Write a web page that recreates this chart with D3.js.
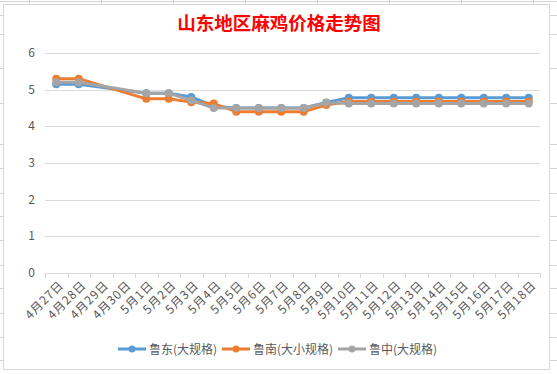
<!DOCTYPE html>
<html>
<head>
<meta charset="utf-8">
<script src="https://cdn.jsdelivr.net/npm/d3@7"></script>
<style>
  body { margin: 0; background: #fff; }
  svg { display: block; font-family: "Noto Sans CJK SC", "Noto Sans", sans-serif; }
</style>
</head>
<body>
<svg id="chart" width="557" height="374"></svg>
<script>
// categories (dates)
const dates = ["4月27日", "4月28日", "4月29日", "4月30日", "5月1日", "5月2日", "5月3日", "5月4日",
  "5月5日", "5月6日", "5月7日", "5月8日", "5月9日", "5月10日", "5月11日", "5月12日",
  "5月13日", "5月14日", "5月15日", "5月16日", "5月17日", "5月18日"];

// series values (null = no data that day)
const ludong = [5.15, 5.15, null, null, 4.9, 4.9, 4.8, 4.55, 4.5, 4.5, 4.5, 4.5, 4.65,
  4.78, 4.78, 4.78, 4.78, 4.78, 4.78, 4.78, 4.78, 4.78];
const lunan = [5.3, 5.3, null, null, 4.75, 4.75, 4.66, 4.62, 4.4, 4.4, 4.4, 4.4, 4.58,
  4.68, 4.68, 4.68, 4.68, 4.68, 4.68, 4.68, 4.68, 4.68];
const luzhong = [5.2, 5.2, null, null, 4.9, 4.9, 4.71, 4.5, 4.5, 4.5, 4.5, 4.5, 4.64,
  4.62, 4.62, 4.62, 4.62, 4.62, 4.62, 4.62, 4.62, 4.62];

const seriesNames = ["鲁东(大规格)", "鲁南(大小规格)", "鲁中(大规格)"];
const seriesColors = ["#5B9BD5", "#ED7D31", "#A5A5A5"];
const yTicks = [0, 1, 2, 3, 4, 5, 6];

const svg = d3.select("#chart");
const W = 557, H = 374;

// spreadsheet cells behind the chart object
const sheet = svg.append("g").attr("stroke", "#d4d4d4").attr("stroke-width", 1);
sheet.append("line").attr("x1", 0).attr("x2", W).attr("y1", 1.5).attr("y2", 1.5);
[29, 101, 173, 245, 317, 389, 461, 533].forEach(x => {
    sheet.append("line").attr("x1", x + 0.5).attr("x2", x + 0.5).attr("y1", 0).attr("y2", 4);
});
[15, 34, 68, 103, 144, 168, 193, 216, 240, 265, 288, 313, 337, 360].forEach(y => {
    sheet.append("line").attr("x1", 0).attr("x2", 3).attr("y1", y + 0.5).attr("y2", y + 0.5);
    sheet.append("line").attr("x1", 550).attr("x2", W).attr("y1", y + 0.5).attr("y2", y + 0.5);
});

// chart object frame
svg.append("rect")
    .attr("x", 3.5).attr("y", 4.5)
    .attr("width", 546).attr("height", 365)
    .attr("fill", "#fff")
    .attr("stroke", "#d9d9d9");

const plot = { left: 45, right: 540, top: 53, bottom: 273 };

const x = d3.scaleBand()
    .domain(dates)
    .range([plot.left, plot.right]);

const y = d3.scaleLinear()
    .domain([0, 6])
    .range([plot.bottom, plot.top]);

// title
svg.append("text")
    .attr("x", 279).attr("y", 30)
    .attr("text-anchor", "middle")
    .attr("fill", "#FF0000")
    .attr("font-size", 18.5)
    .attr("font-weight", "bold")
    .text("山东地区麻鸡价格走势图");

// gridlines
svg.append("g")
    .selectAll("line")
    .data(yTicks.filter(d => d > 0))
    .join("line")
    .attr("x1", plot.left).attr("x2", plot.right)
    .attr("y1", d => Math.round(y(d)) + 0.5)
    .attr("y2", d => Math.round(y(d)) + 0.5)
    .attr("stroke", "#d9d9d9");

// y axis labels
svg.append("g")
    .selectAll("text")
    .data(yTicks)
    .join("text")
    .attr("x", 35)
    .attr("y", d => y(d) + 4)
    .attr("text-anchor", "end")
    .attr("fill", "#595959")
    .attr("font-size", 12)
    .text(d => d);

// x axis with ticks between categories
const xAxis = svg.append("g")
    .attr("stroke", "#d9d9d9");
xAxis.append("line")
    .attr("x1", plot.left).attr("x2", plot.right)
    .attr("y1", plot.bottom + 0.5).attr("y2", plot.bottom + 0.5);
xAxis.selectAll("line.tick")
    .data(dates.concat(["end"]))
    .join("line")
    .attr("class", "tick")
    .attr("x1", (d, i) => Math.round(plot.left + i * x.step()) + 0.5)
    .attr("x2", (d, i) => Math.round(plot.left + i * x.step()) + 0.5)
    .attr("y1", plot.bottom)
    .attr("y2", plot.bottom + 5);

svg.append("g")
    .selectAll("text")
    .data(dates)
    .join("text")
    .attr("transform", d => `translate(${x(d) + x.bandwidth() / 2 + 5},${plot.bottom + 10}) rotate(-45)`)
    .attr("text-anchor", "end")
    .attr("dy", "0.35em")
    .attr("fill", "#595959")
    .attr("font-size", 12)
    .attr("letter-spacing", 0.8)
    .text(d => d);

// series lines + markers
const allSeries = [ludong, lunan, luzhong];
const cx = i => x(dates[i]) + x.bandwidth() / 2;

const line = d3.line()
    .x(d => cx(d.i))
    .y(d => y(d.v));

allSeries.forEach((vals, s) => {
    const pts = vals.map((v, i) => ({ i, v })).filter(d => d.v !== null);
    const g = svg.append("g");
    g.append("path")
        .datum(pts)
        .attr("d", line)
        .attr("fill", "none")
        .attr("stroke", seriesColors[s])
        .attr("stroke-width", 3)
        .attr("stroke-linejoin", "round")
        .attr("stroke-linecap", "round");
    g.selectAll("circle")
        .data(pts)
        .join("circle")
        .attr("cx", d => cx(d.i))
        .attr("cy", d => y(d.v))
        .attr("r", 4)
        .attr("fill", seriesColors[s]);
});

// legend
const legendX = [118, 222, 338];
const legend = svg.append("g");
seriesNames.forEach((name, s) => {
    const lg = legend.append("g").attr("transform", `translate(${legendX[s]},349)`);
    lg.append("line")
        .attr("x1", 0).attr("x2", 28)
        .attr("stroke", seriesColors[s])
        .attr("stroke-width", 3);
    lg.append("circle")
        .attr("cx", 14).attr("r", 3.5)
        .attr("fill", seriesColors[s]);
    lg.append("text")
        .attr("x", 31).attr("y", 4.5)
        .attr("fill", "#595959")
        .attr("font-size", 12)
        .text(name);
});
</script>
</body>
</html>
